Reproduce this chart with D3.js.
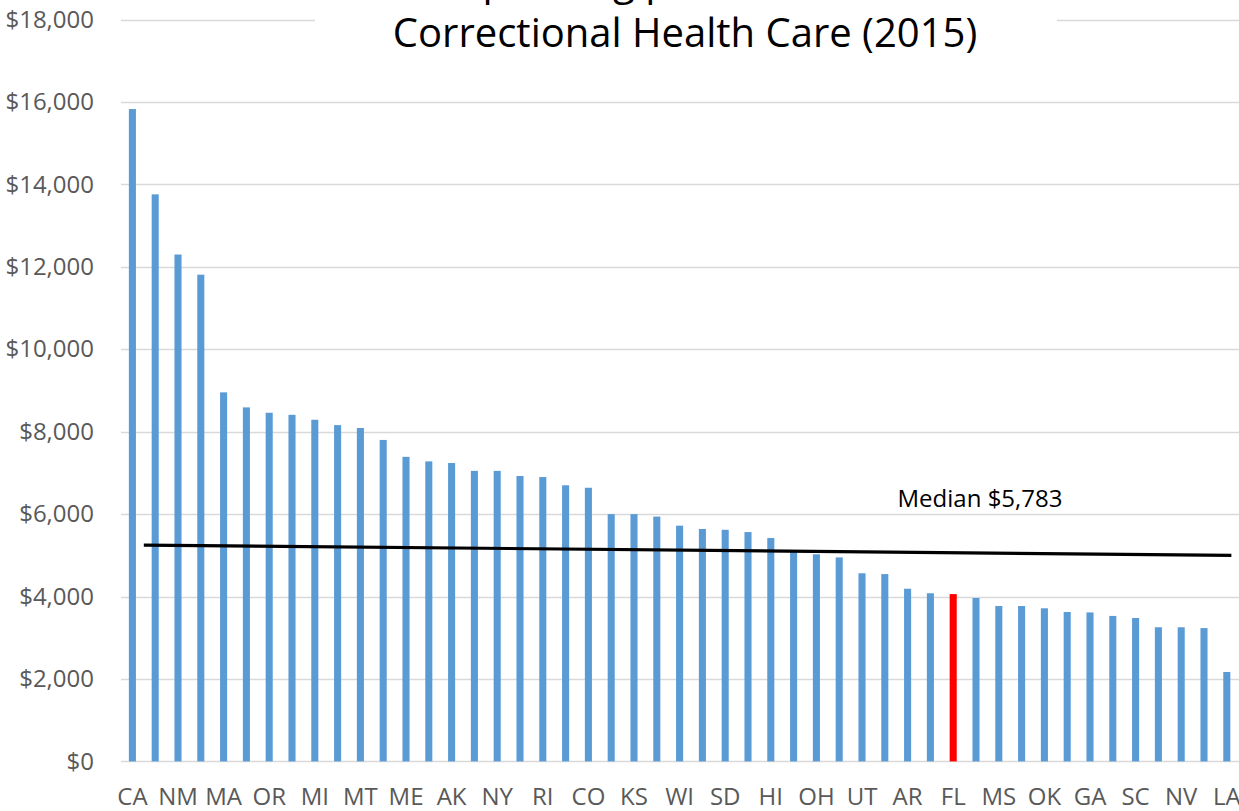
<!DOCTYPE html>
<html>
<head>
<meta charset="utf-8">
<script src="https://cdn.jsdelivr.net/npm/d3@7"></script>
<style>
  body { margin: 0; background: #fff; }
  svg { display: block; font-family: "Open Sans", sans-serif; }
  .axis path, .axis line { stroke: none; }
  .axis text { fill: #595959; font-size: 24px; font-family: "Open Sans", sans-serif; }
</style>
</head>
<body>
<svg id="chart" width="1239" height="811"></svg>
<script>
// states in rank order (only every other one is labelled in the original)
var states = ["CA","WY","NM","VT","MA","NH","OR","WA","MI","MN","MT","CT","ME","DE","AK","ND","NY","PA",
              "RI","NE","CO","IA","KS","ID","WI","MD","SD","NC","HI","IN","OH","VA","UT","WV","AR","KY",
              "FL","TX","MS","MO","OK","TN","GA","AZ","SC","IL","NV","AL","LA"];
var spending = [15830, 13760, 12300, 11810, 8955, 8590, 8460, 8410, 8290, 8160, 8090, 7800, 7390, 7280,
                7240, 7050, 7050, 6925, 6900, 6700, 6640, 6000, 6000, 5940, 5720, 5640, 5620, 5565, 5420,
                5080, 5025, 4950, 4565, 4545, 4190, 4080, 4060, 3965, 3770, 3770, 3715, 3625, 3615, 3530,
                3480, 3255, 3255, 3235, 2170];
var highlight = "FL";
var yTicks = [0, 2000, 4000, 6000, 8000, 10000, 12000, 14000, 16000, 18000];
var medianLabel = "Median $5,783";
// the drawn median line runs slightly downhill: [bar position, value]
var medianLine = [[0.5, 5250], [48.2, 5000]];
var titleLines = ["Spending per Inmate on", "Correctional Health Care (2015)"];

var svg = d3.select("#chart");
var margin = { left: 121, right: 1239, top: 19.6, bottom: 761.4 };

var x = d3.scaleBand()
    .domain(states)
    .range([margin.left, margin.left + states.length * 22.8])
    .paddingInner(0.69)
    .paddingOuter(0.345);

var xPos = d3.scaleLinear()
    .domain([0, states.length - 1])
    .range([x(states[0]) + x.bandwidth() / 2, x(states[states.length - 1]) + x.bandwidth() / 2]);

var y = d3.scaleLinear()
    .domain([0, 18000])
    .range([margin.bottom, margin.top]);

// Gridlines
svg.append("g")
    .selectAll("line")
    .data(yTicks)
    .enter().append("line")
    .attr("x1", margin.left)
    .attr("x2", margin.right)
    .attr("y1", function(d) { return Math.round(y(d)) + 0.5; })
    .attr("y2", function(d) { return Math.round(y(d)) + 0.5; })
    .attr("stroke", "#d9d9d9")
    .attr("stroke-width", 1.3);

// Y axis labels
svg.append("g")
    .attr("class", "axis")
    .attr("transform", "translate(" + margin.left + ",0)")
    .call(d3.axisLeft(y).tickValues(yTicks).tickSize(0).tickPadding(27)
        .tickFormat(function(d) { return "$" + d3.format(",")(d); }));

// Bars
svg.append("g")
    .selectAll("rect")
    .data(states)
    .enter().append("rect")
    .attr("x", function(d) { return x(d); })
    .attr("width", x.bandwidth())
    .attr("y", function(d, i) { return y(spending[i]); })
    .attr("height", function(d, i) { return y(0) - y(spending[i]); })
    .attr("fill", function(d) { return d === highlight ? "#ff0000" : "#5b9bd5"; });

// X axis labels, every other state
svg.append("g")
    .attr("class", "axis")
    .attr("transform", "translate(0," + margin.bottom + ")")
    .call(d3.axisBottom(x).tickSize(0).tickPadding(27)
        .tickFormat(function(d, i) { return i % 2 === 0 ? d : ""; }));

// Median line
svg.append("path")
    .datum(medianLine)
    .attr("fill", "none")
    .attr("stroke", "#000")
    .attr("stroke-width", 3.2)
    .attr("d", d3.line()
        .x(function(d) { return xPos(d[0]); })
        .y(function(d) { return y(d[1]); }));

svg.append("text")
    .attr("x", 980)
    .attr("y", 507)
    .attr("text-anchor", "middle")
    .style("font-size", "24px")
    .attr("fill", "#000")
    .text(medianLabel);

// Title (first line sits above the visible area)
svg.append("rect")
    .attr("x", 315)
    .attr("y", 0)
    .attr("width", 742)
    .attr("height", 60)
    .attr("fill", "#fff");

svg.append("g")
    .selectAll("text")
    .data(titleLines)
    .enter().append("text")
    .attr("x", 685)
    .attr("y", function(d, i) { return -5 + i * 52; })
    .attr("text-anchor", "middle")
    .style("font-size", "40px")
    .attr("fill", "#000")
    .text(function(d) { return d; });
</script>
</body>
</html>
